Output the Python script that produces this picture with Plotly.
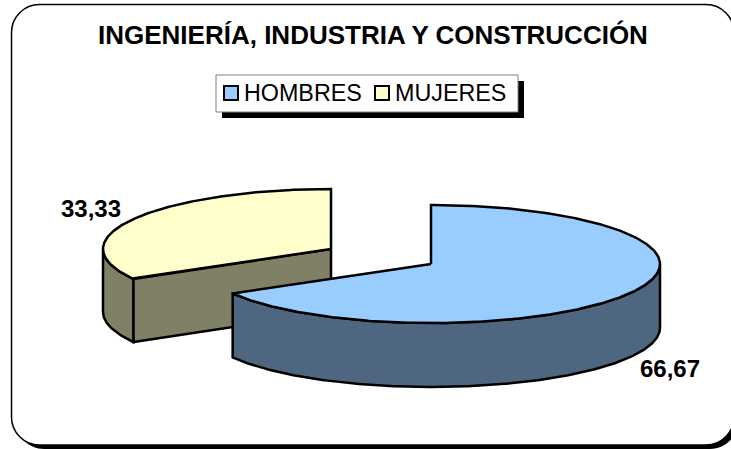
import numpy as np
import plotly.graph_objects as go

categories = ["HOMBRES", "MUJERES"]
values = [66.67, 33.33]
title_text = "INGENIERÍA, INDUSTRIA Y CONSTRUCCIÓN"

TOP = ["#99CCFF", "#FFFFCC"]
SIDE = ["#4F6680", "#808066"]
CENTER = [(431, 264), (331, 249)]
RX = [229, 228]
RY = [59, 60]
DEPTH = [64, 63]
LW = 2.5


def arc(cx, cy, rx, ry, a0, a1, dz=0):
    t = np.radians(np.linspace(a0, a1, max(int(abs(a1 - a0)) * 2, 2)))
    return cx + rx * np.sin(t), cy - ry * np.cos(t) + dz


def rounded(x0, y0, x1, y1, r):
    k = r * 0.4477
    return (f"M{x0+r},{y0} L{x1-r},{y0} C{x1-k},{y0} {x1},{y0+k} {x1},{y0+r} L{x1},{y1-r} "
            f"C{x1},{y1-k} {x1-k},{y1} {x1-r},{y1} L{x0+r},{y1} C{x0+k},{y1} {x0},{y1-k} {x0},{y1-r} "
            f"L{x0},{y0+r} C{x0},{y0+k} {x0+k},{y0} {x0+r},{y0} Z")


def poly(fig, x, y, fill, name=None):
    fig.add_trace(go.Scatter(x=list(x) + [x[0]], y=list(y) + [y[0]], mode="lines", fill="toself",
                             fillcolor=fill, line=dict(color="black", width=LW),
                             hoverinfo="skip" if name is None else "name", name=name or "", showlegend=False))


fig = go.Figure()
total = sum(values)
edges = np.cumsum([0] + values) / total * 360
for i in [1, 0]:
    a0, a1 = edges[i], edges[i + 1]
    cx, cy = CENTER[i]
    rx, ry, d = RX[i], RY[i], DEPTH[i]
    # outer rim: only the part facing the viewer
    s0, s1 = max(a0, 90), min(a1, 270)
    if s1 > s0:
        xa, ya = arc(cx, cy, rx, ry, s0, s1)
        xb, yb = arc(cx, cy, rx, ry, s1, s0, d)
        poly(fig, np.r_[xa, xb], np.r_[ya, yb], SIDE[i])
    # cut face visible at the start angle of the slice on the left half
    if 180 < a0 < 360:
        ex, ey = arc(cx, cy, rx, ry, a0, a0 + 1e-6)
        poly(fig, [cx, ex[0], ex[0], cx], [cy, ey[0], ey[0] + d, cy + d], SIDE[i])
    xa, ya = arc(cx, cy, rx, ry, a0, a1)
    poly(fig, np.r_[cx, xa], np.r_[cy, ya], TOP[i], categories[i])

shapes = [
    dict(type="path", path=rounded(16, 9, 738, 449, 28), fillcolor="black", line_width=0, layer="below"),
    dict(type="path", path=rounded(11.5, 4.5, 734, 445, 28), fillcolor="white",
         line=dict(color="black", width=1.5), layer="below"),
    dict(type="rect", x0=222, y0=81, x1=524, y1=118, fillcolor="black", line_width=0),
    dict(type="rect", x0=216, y0=75, x1=518, y1=112, fillcolor="white", line=dict(color="#808080", width=1)),
]
SW_X = [224, 375]
TX_X = [242, 393]
annotations = [dict(text=f"<b>{title_text}</b>", x=373, y=35, xref="x", yref="y", showarrow=False,
                    xanchor="center", yanchor="middle",
                    font=dict(family="Liberation Sans", size=26, color="black"))]
for i, c in enumerate(categories):
    shapes.append(dict(type="rect", x0=SW_X[i], x1=SW_X[i] + 14, y0=86, y1=100, fillcolor=TOP[i],
                       line=dict(color="black", width=2)))
    annotations.append(dict(text=c, x=TX_X[i], y=93, xref="x", yref="y", showarrow=False, xanchor="left",
                            yanchor="middle", font=dict(family="Liberation Sans", size=23.3, color="black")))
LABEL_POS = [(670, 368), (91, 208)]
for v, (lx, ly) in zip(values, LABEL_POS):
    annotations.append(dict(text="<b>" + f"{v:.2f}".replace(".", ",") + "</b>", x=lx, y=ly, xref="x", yref="y",
                            showarrow=False, font=dict(family="Liberation Sans", size=24, color="black")))

fig.update_layout(width=731, height=449, margin=dict(l=0, r=0, t=0, b=0), autosize=False,
                  paper_bgcolor="white", plot_bgcolor="rgba(0,0,0,0)", showlegend=False,
                  shapes=shapes, annotations=annotations,
                  xaxis=dict(range=[0, 731], visible=False, fixedrange=True),
                  yaxis=dict(range=[449, 0], visible=False, fixedrange=True))
fig.write_html("out.html", config=dict(displayModeBar=False),
               post_script="document.body.style.margin='0';document.documentElement.style.overflow='hidden';")
